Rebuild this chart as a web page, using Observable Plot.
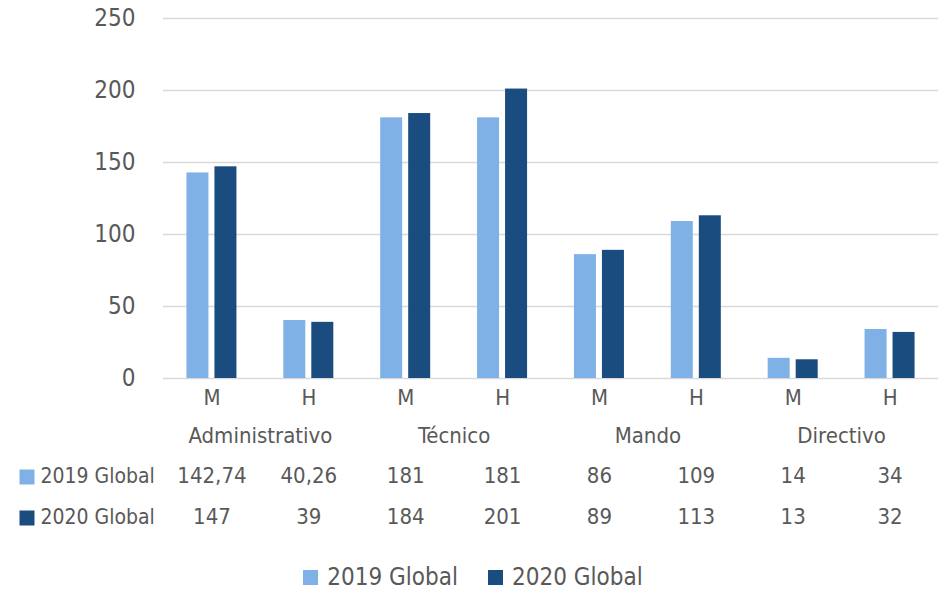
<!DOCTYPE html>
<html>
<head>
<meta charset="utf-8">
<script src="https://cdn.jsdelivr.net/npm/d3@7"></script>
<script src="https://cdn.jsdelivr.net/npm/@observablehq/plot@0.6"></script>
<style>
  html, body { margin: 0; padding: 0; background: #fff; }
  body { width: 946px; height: 592px; overflow: hidden;
         font-family: "DejaVu Sans Condensed", "DejaVu Sans", sans-serif; font-stretch: condensed; color: #595959; }
  #legend { height: 30px; padding-top: 12px; display: flex; justify-content: center; align-items: center; font-size: 24px; }
  .item { display: flex; align-items: center; margin: 0 15px; }
  .sw { width: 15px; height: 15px; margin-right: 9px; }
</style>
</head>
<body>
<div id="chart"></div>
<div id="legend"></div>
<script>
const categories = ["Administrativo", "Técnico", "Mando", "Directivo"];
const genders = ["M", "H"];
const series = ["2019 Global", "2020 Global"];
const values2019 = [142.74, 40.26, 181, 181, 86, 109, 14, 34];
const values2020 = [147, 39, 184, 201, 89, 113, 13, 32];
const yTicks = [0, 50, 100, 150, 200, 250];
const colors = ["#7FB1E6", "#1B4C80"];

const keys = categories.flatMap(c => genders.map(g => c + "|" + g));
const seriesValues = [values2019, values2020];
const data = [];
series.forEach((s, si) => keys.forEach((k, ki) => data.push({key: k, s, v: seriesValues[si][ki]})));
const fmt = v => String(v).replace(".", ",");
const catData = categories.map(c => ({key: c + "|M", label: c}));
const rowDy = [104, 145];

const textColor = "#595959";
const ff = '"DejaVu Sans Condensed", "DejaVu Sans", sans-serif';

const rowMarks = series.flatMap((s, i) => [
  Plot.text(data.filter(d => d.s === s), {fx: "key", text: d => fmt(d.v), frameAnchor: "bottom", dy: rowDy[i], fill: textColor, fontSize: 22}),
  Plot.text([{key: keys[0], s}], {fx: "key", text: "s", frameAnchor: "bottom-left", textAnchor: "start", dx: -123, dy: rowDy[i], fill: textColor, fontSize: 21}),
  Plot.dot([{key: keys[0], s}], {fx: "key", frameAnchor: "bottom-left", symbol: "square", r: 8.46, fill: "s", dx: -136.5, dy: rowDy[i] - 5.5})
]);

const chart = Plot.plot({
  width: 946,
  height: 550,
  marginLeft: 163,
  marginRight: 8,
  marginTop: 18,
  marginBottom: 172,
  style: {fontFamily: ff, fontSize: "22px", color: textColor, fontStretch: "condensed"},
  fx: {domain: keys, padding: 0, round: false, axis: null},
  x: {domain: series, paddingInner: 0.214, paddingOuter: 0.837, round: false, axis: null},
  y: {domain: [0, 250], axis: null},
  color: {domain: series, range: colors},
  marks: [
    Plot.ruleY(yTicks, {stroke: "#d9d9d9", strokeWidth: 1.5}),
    Plot.barY(data, {fx: "key", x: "s", y: "v", fill: "s"}),
    Plot.axisY({ticks: yTicks, tickSize: 0, tickPadding: 28, fill: textColor, fontSize: 24, label: null}),
    Plot.axisFx({anchor: "bottom", tickSize: 0, tickPadding: 11, tickFormat: k => k.split("|")[1], fill: textColor, label: null}),
    Plot.text(catData, {fx: "key", text: "label", frameAnchor: "bottom-right", textAnchor: "middle", dy: 64, fill: textColor}),
    ...rowMarks
  ]
});
document.getElementById("chart").appendChild(chart);

const legend = document.getElementById("legend");
series.forEach((s, i) => {
  const item = document.createElement("div");
  item.className = "item";
  const sw = document.createElement("div");
  sw.className = "sw";
  sw.style.background = colors[i];
  const t = document.createElement("span");
  t.textContent = s;
  item.appendChild(sw); item.appendChild(t);
  legend.appendChild(item);
});
</script>
</body>
</html>
